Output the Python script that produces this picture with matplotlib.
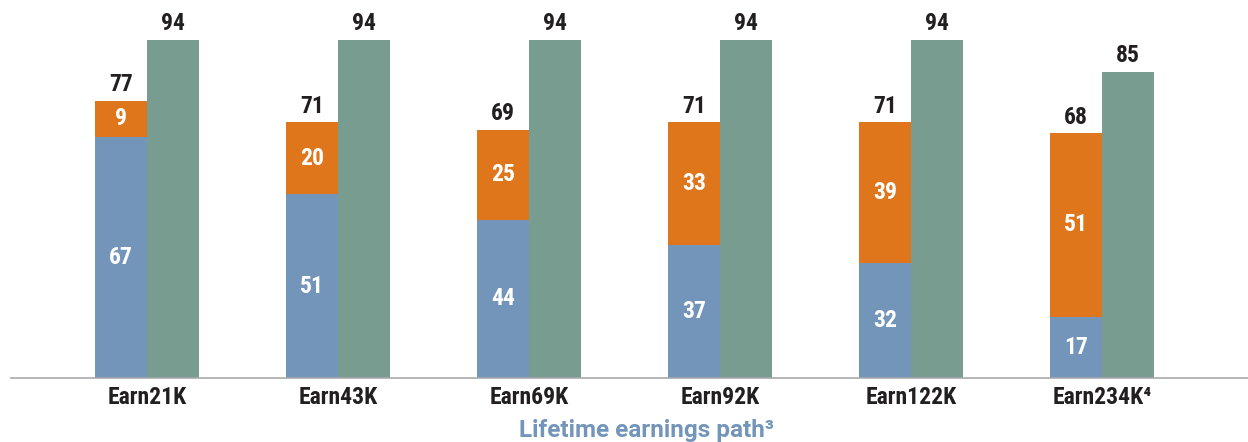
import matplotlib.pyplot as plt
import numpy as np

plt.rcParams['font.family'] = ['Roboto Condensed', 'Liberation Sans Narrow', 'Liberation Sans', 'DejaVu Sans']
plt.rcParams['font.weight'] = 'bold'

categories = ['Earn21K', 'Earn43K', 'Earn69K', 'Earn92K', 'Earn122K', 'Earn234K\u2074']
blue_vals = [67, 51, 44, 37, 32, 17]
orange_vals = [9, 20, 25, 33, 39, 51]
stack_totals = [77, 71, 69, 71, 71, 68]
green_vals = [94, 94, 94, 94, 94, 85]

blue = '#7395BA'
orange = '#DF761B'
green = '#789D90'
dark = '#231F20'

fig = plt.figure(figsize=(12.48, 4.42), dpi=100)
ax = fig.add_axes([11 / 1248, 1 - 378 / 442, 1 - 11 / 1248, 378 / 442])

x = np.arange(len(categories))
w = 0.272

blue_b = ax.bar(x - w / 2, blue_vals, w, color=blue)
# orange segment reaches the stack total
orange_h = np.array(stack_totals) - np.array(blue_vals)
orange_b = ax.bar(x - w / 2, orange_h, w, bottom=blue_vals, color=orange)
green_b = ax.bar(x + w / 2, green_vals, w, color=green)

fs = 17
for i in range(len(categories)):
    ax.text(x[i] - w / 2, blue_vals[i] / 2, str(blue_vals[i]), ha='center', va='center',
            color='white', fontsize=fs)
    ax.text(x[i] - w / 2, blue_vals[i] + orange_h[i] / 2, str(orange_vals[i]), ha='center',
            va='center', color='white', fontsize=fs)
    ax.text(x[i] - w / 2, stack_totals[i] + 1.3, str(stack_totals[i]), ha='center',
            va='bottom', color=dark, fontsize=fs)
    ax.text(x[i] + w / 2, green_vals[i] + 1.3, str(green_vals[i]), ha='center',
            va='bottom', color=dark, fontsize=fs)

ax.set_xlim(-0.712, 5.764)
ax.set_ylim(0, 105)
ax.set_xticks(x)
ax.set_xticklabels(categories, fontsize=fs, color=dark)
ax.tick_params(axis='x', length=0, pad=6)
ax.set_yticks([])
for s in ['top', 'right', 'left']:
    ax.spines[s].set_visible(False)
ax.spines['bottom'].set_color('#A7A9AC')
ax.spines['bottom'].set_linewidth(1.2)

fig.text(646 / 1248, 1 - 431 / 442, 'Lifetime earnings path\u00b3', ha='center', va='center',
         fontsize=17.5, color=blue, family=['Roboto', 'DejaVu Sans'])

fig.savefig('out.png', dpi=100)
